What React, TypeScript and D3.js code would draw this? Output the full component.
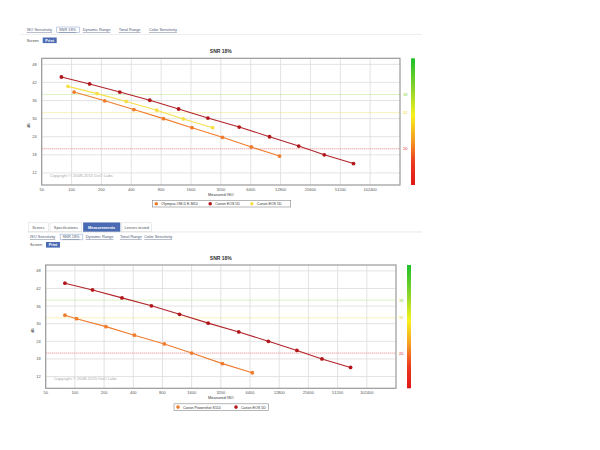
import React from "react";
import * as d3 from "d3";

const xTicks = [50, 100, 200, 400, 800, 1600, 3200, 6400, 12800, 25600, 51200, 102400];
const yTicks = [12, 18, 24, 30, 36, 42, 48];

const canonIso = [79, 152, 306, 615, 1200, 2370, 4900, 9900, 19500, 35300, 69600];
const canonDb = [43.8, 41.5, 38.8, 36.1, 33.2, 30.2, 27.2, 24.0, 20.9, 18.0, 15.1];
const canon2Iso = [92, 181, 356, 723, 1339, 2648];
const canon2Db = [40.7, 38.3, 35.7, 32.8, 29.9, 27.0];
const olyIso = [106, 216, 425, 844, 1637, 3320, 6490, 12500];
const olyDb = [38.8, 35.9, 33.0, 30.0, 27.0, 23.8, 20.6, 17.6];
const psIso = [79, 104, 209, 410, 836, 1600, 3320, 6750];
const psDb = [32.9, 31.7, 29.0, 26.1, 23.1, 20.0, 16.4, 13.3];

const thresholds = [
  { v: 38, c: "#8fd640" },
  { v: 32, c: "#f0d420" },
  { v: 20, c: "#d83030" },
];

const topTabs = ["ISO Sensitivity", "SNR 18%", "Dynamic Range", "Tonal Range", "Color Sensitivity"];
const mainTabs = ["Scores", "Specifications", "Measurements", "Lenses tested"];

const C_RED = "#b3161b";
const C_ORANGE = "#f07c2c";
const C_YELLOW = "#f5e04a";
const FONT = "Liberation Sans, Arial, sans-serif";
const BLUE = "#4a6ab3";

type Series = { name: string; iso: number[]; db: number[]; color: string; line: string };

function Chart({ x0, x1, y0, y1, series, legendX, legendW, gid }: any) {
  const x = d3.scaleLog().base(2).domain([50, 204800]).range([x0, x1]);
  const y = d3.scaleLinear().domain([8, 50]).range([y1, y0]);
  const line = d3.line<[number, number]>().x((d) => x(d[0])).y((d) => y(d[1]));
  const cx = (x0 + x1) / 2;
  const barX = x1 + 11;
  let lx = legendX + 4;
  const legendItems = (series as Series[]).map((s) => {
    const item = { s, cx: lx, tx: lx + 5 };
    lx += 5 + s.name.length * 2.05 + 12;
    return item;
  });
  return (
    <g>
      <defs>
        <linearGradient id={gid} x1="0" y1="0" x2="0" y2="1">
          <stop offset="0" stopColor="#1fbf2a" />
          <stop offset="0.25" stopColor="#8fd62a" />
          <stop offset="0.45" stopColor="#f7f21c" />
          <stop offset="0.65" stopColor="#f59a22" />
          <stop offset="0.82" stopColor="#ec3a1f" />
          <stop offset="1" stopColor="#e01818" />
        </linearGradient>
      </defs>
      <text x={cx} y={y0 - 5} fontSize={5} fontWeight="bold" textAnchor="middle" fill="#333" fontFamily={FONT}>
        SNR 18%
      </text>
      <rect x={x0} y={y0} width={x1 - x0} height={y1 - y0} fill="#fff" />
      {xTicks.map((t) => (
        <line key={"gx" + t} x1={x(t)} x2={x(t)} y1={y0} y2={y1} stroke="#dcdcdc" strokeWidth={0.8} />
      ))}
      {yTicks.map((t) => (
        <line key={"gy" + t} x1={x0} x2={x1} y1={y(t)} y2={y(t)} stroke="#dcdcdc" strokeWidth={0.8} />
      ))}
      {thresholds.map((th) => (
        <g key={"th" + th.v}>
          <line x1={x0} x2={x1} y1={y(th.v)} y2={y(th.v)} stroke={th.c} strokeOpacity={0.75} strokeWidth={0.8} strokeDasharray="1,1" />
          <text x={x1 + 3} y={y(th.v) + 1.5} fontSize={4} fill={th.c} fontFamily={FONT}>
            {th.v}
          </text>
        </g>
      ))}
      <rect x={x0} y={y0} width={x1 - x0} height={y1 - y0} fill="none" stroke="#9a9a9a" strokeWidth={1.2} />
      {xTicks.map((t) => (
        <text key={"tx" + t} x={x(t)} y={y1 + 6} fontSize={4} textAnchor="middle" fill="#555" fontFamily={FONT}>
          {t}
        </text>
      ))}
      {yTicks.map((t) => (
        <text key={"ty" + t} x={x0 - 5} y={y(t) + 1.5} fontSize={4} textAnchor="end" fill="#555" fontFamily={FONT}>
          {t}
        </text>
      ))}
      <text x={cx} y={y1 + 11} fontSize={4} textAnchor="middle" fill="#333" fontFamily={FONT}>
        Measured ISO
      </text>
      <text
        transform={`translate(${x0 - 12},${(y0 + y1) / 2 + 4}) rotate(-90)`}
        fontSize={4}
        textAnchor="middle"
        fill="#333"
        fontFamily={FONT}
      >
        dB
      </text>
      <text x={x0 + 8} y={y1 - 8.5} fontSize={4.2} fill="#aaa" fontFamily={FONT}>
        Copyright © 2008-2015 DxO Labs
      </text>
      {(series as Series[]).map((s) => {
        const pts = s.iso.map((v, i) => [v, s.db[i]] as [number, number]);
        return (
          <g key={s.name + s.color}>
            <path d={line(pts) || ""} fill="none" stroke={s.line} strokeWidth={1.1} />
            {pts.map((p, i) => (
              <circle key={i} cx={x(p[0])} cy={y(p[1])} r={1.9} fill={s.color} />
            ))}
          </g>
        );
      })}
      <rect x={barX} y={y0} width={4} height={y1 - y0} fill={`url(#${gid})`} />
      <rect x={legendX} y={y1 + 15.5} width={legendW} height={6.5} fill="#fff" stroke="#888" strokeWidth={0.6} />
      {legendItems.map((it) => (
        <g key={"lg" + it.s.name + it.s.color}>
          <circle cx={it.cx} cy={y1 + 18.8} r={1.8} fill={it.s.color} />
          <text x={it.tx} y={y1 + 20.2} fontSize={3.6} fill="#333" fontFamily={FONT}>
            {it.s.name}
          </text>
        </g>
      ))}
    </g>
  );
}

function SubTabs({ x, y, widths }: { x: number; y: number; widths: number[] }) {
  let cur = x;
  return (
    <g fontFamily={FONT} fontSize={3.9}>
      {topTabs.map((t, i) => {
        const tx = cur;
        cur += widths[i];
        const sel = t === "SNR 18%";
        return (
          <g key={t}>
            {sel && <rect x={tx - 2.3} y={y - 4} width={22.6} height={5.6} fill="#fff" stroke="#9bb0d6" strokeWidth={0.6} />}
            <text x={tx} y={y} fill="#4a5a7a" textDecoration="underline">
              {t}
            </text>
          </g>
        );
      })}
    </g>
  );
}

function ScreenPrint({ x, y }: { x: number; y: number }) {
  return (
    <g fontFamily={FONT} fontSize={3.8}>
      <text x={x} y={y} fill="#444">
        Screen
      </text>
      <rect x={x + 16} y={y - 4} width={14} height={5.6} fill={BLUE} />
      <text x={x + 23} y={y} fill="#fff" textAnchor="middle" fontWeight="bold">
        Print
      </text>
    </g>
  );
}

export default function App() {
  const topSeries: Series[] = [
    { name: "Olympus OM-D E-M10", iso: olyIso, db: olyDb, color: C_ORANGE, line: C_ORANGE },
    { name: "Canon EOS 5D", iso: canonIso, db: canonDb, color: C_RED, line: "#b0242a" },
    { name: "Canon EOS 5D", iso: canon2Iso, db: canon2Db, color: C_YELLOW, line: C_YELLOW },
  ];
  const botSeries: Series[] = [
    { name: "Canon Powershot S110", iso: psIso, db: psDb, color: C_ORANGE, line: C_ORANGE },
    { name: "Canon EOS 5D", iso: canonIso, db: canonDb, color: C_RED, line: "#b0242a" },
  ];
  const mainTabX = [28.3, 50, 83.3, 121.7];
  const mainTabW = [20, 31.7, 36.7, 30];
  return (
    <svg width={600} height={450} style={{ position: "absolute", left: 0, top: 0, background: "#fff" }}>
      <rect width={600} height={450} fill="#fff" />
      <SubTabs x={26.7} y={31} widths={[32.3, 23.7, 36, 30.3, 32]} />
      <line x1={20} x2={422} y1={34.5} y2={34.5} stroke="#e4e4e4" strokeWidth={0.6} />
      <ScreenPrint x={26.7} y={41.5} />
      <Chart x0={41.7} x1={400} y0={58.3} y1={185} series={topSeries} legendX={152.3} legendW={138.4} gid="gradTop" />

      <g fontFamily={FONT} fontSize={3.9}>
        {mainTabs.map((t, i) => {
          const tx = mainTabX[i];
          const w = mainTabW[i];
          const sel = t === "Measurements";
          return (
            <g key={t}>
              <rect x={tx} y={222.8} width={w} height={9} fill={sel ? BLUE : "#fff"} stroke={sel ? BLUE : "#d8d8d8"} strokeWidth={0.5} />
              <text x={tx + w / 2} y={228.8} textAnchor="middle" fill={sel ? "#fff" : "#555"} fontWeight={sel ? "bold" : "normal"}>
                {t}
              </text>
            </g>
          );
        })}
      </g>
      <line x1={28} x2={422} y1={232} y2={232} stroke="#d8d8d8" strokeWidth={0.6} />
      <SubTabs x={30} y={238.2} widths={[32.5, 23.2, 34.3, 24.3, 32]} />
      <ScreenPrint x={30} y={246} />
      <Chart x0={45.7} x1={396} y0={265} y1={388.3} series={botSeries} legendX={174} legendW={94.3} gid="gradBot" />
    </svg>
  );
}
